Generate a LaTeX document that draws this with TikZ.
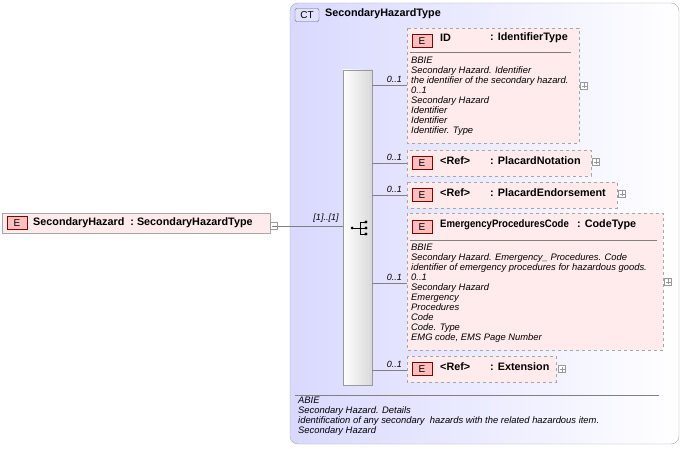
\documentclass[tikz,border=0pt]{standalone}
\usepackage{fontspec}
\setmainfont{Liberation Sans}
\begin{document}
\begin{tikzpicture}[x=1pt,y=-1pt,
 elem/.style={draw=black!35,dashed,fill=red!8},
 elemsolid/.style={draw=black!35,fill=red!8},
 badge/.style={draw=red!50!black,fill=red!25,minimum width=20pt,minimum height=13pt,inner sep=0pt,font=\fontsize{10}{11}\selectfont},
 btxt/.style={anchor=west,inner sep=0pt,font=\bfseries\fontsize{10.8}{12}\selectfont},
 itxt/.style={anchor=north west,inner sep=0pt,align=left,font=\itshape\fontsize{9.4}{10}\selectfont},
 mult/.style={inner sep=0pt,font=\itshape\fontsize{9}{10}\selectfont},
 conn/.style={draw=black!50},
 plus/.style={draw=black!40,fill=white,minimum size=7pt,inner sep=0pt}]
\useasboundingbox (0,0) rectangle (683,449);
% CT box
\shade[left color=blue!15,right color=white,rounded corners=8pt,draw=black!35] (290,3) rectangle (679,444);
\node[draw=black!60,fill=blue!12,rounded corners=2pt,minimum width=24pt,minimum height=13pt,inner sep=0pt,font=\fontsize{10}{11}\selectfont] (ct) at (307,15) {CT};
\node[btxt] (ctt) at (325,14) {SecondaryHazardType};
% left element
\draw[elemsolid] (2,213) rectangle (270,233);
\node[badge] (e0) at (17,223) {E};
\node[btxt] (t0) at (33,223) {SecondaryHazard\ \ :\ SecondaryHazardType};
\node[plus] (m0) at (274,226) {};
\draw[black!50] (271.5,226) -- (276.5,226);
% sequence
\shade[left color=white,right color=black!15,draw=black!40] (343,70) rectangle (372,385);
\coordinate (seqL) at (343,226);
\draw[conn] (m0.east) -- (seqL);
\node[mult,anchor=south] (m1) at (326,223) {[1]..[1]};
% seq icon
\fill (352,228) circle (1.5);
\draw (352,228) -- (360,228) (360,222) -- (360,234) (360,222)--(366,222) (360,228)--(366,228) (360,234)--(366,234);
\fill (366,222) circle (1.6) (366,228) circle (1.6) (366,234) circle (1.6);
% ID
\draw[elem] (407,28) rectangle (579,143);
\node[badge] (e1) at (422,41) {E};
\node[btxt] at (440,38) {ID}; \node[btxt] at (490,38) {: IdentifierType};
\draw[black!50] (410,52) -- (571,52);
\node[itxt] at (411,57) {BBIE\\Secondary Hazard. Identifier\\the identifier of the secondary hazard.\\0..1\\Secondary Hazard\\Identifier\\Identifier\\Identifier. Type};
\node[plus] (p1) at (584,86) {}; \draw[black!40] (581.5,86)--(586.5,86) (584,83.5)--(584,88.5);
% PlacardNotation
\draw[elem] (407,150) rectangle (591,176);
\node[badge] (e2) at (422,163) {E};
\node[btxt] at (440,161) {<Ref>}; \node[btxt] at (490,161) {: PlacardNotation};
\node[plus] (p2) at (596,162) {}; \draw[black!40] (593.5,162)--(598.5,162) (596,159.5)--(596,164.5);
% PlacardEndorsement
\draw[elem] (407,182) rectangle (617,208);
\node[badge] (e3) at (422,195) {E};
\node[btxt] at (440,193) {<Ref>}; \node[btxt] at (490,193) {: PlacardEndorsement};
\node[plus] (p3) at (622,194) {}; \draw[black!40] (619.5,194)--(624.5,194) (622,191.5)--(622,196.5);
% EPC
\draw[elem] (407,213) rectangle (663,350);
\node[badge] (e4) at (422,227) {E};
\node[btxt] at (440,225) {\scalebox{0.89}[1]{EmergencyProceduresCode}}; \node[btxt] at (577,225) {: CodeType};
\draw[black!50] (410,240) -- (657,240);
\node[itxt] at (411,244) {BBIE\\Secondary Hazard. Emergency\_ Procedures. Code\\identifier of emergency procedures for hazardous goods.\\0..1\\Secondary Hazard\\Emergency\\Procedures\\Code\\Code. Type\\EMG code, EMS Page Number};
\node[plus] (p4) at (668,282) {}; \draw[black!40] (665.5,282)--(670.5,282) (668,279.5)--(668,284.5);
% Extension
\draw[elem] (407,356) rectangle (556,382);
\node[badge] (e5) at (422,369) {E};
\node[btxt] at (440,367) {<Ref>}; \node[btxt] at (490,367) {: Extension};
\node[plus] (p5) at (562,369) {}; \draw[black!40] (559.5,369)--(564.5,369) (562,366.5)--(562,371.5);
% connectors
\foreach \y/\n in {85/a,163/b,195/c,283/d,370/e}{
 \coordinate (s\n) at (372,\y); \coordinate (t\n) at (407,\y);
 \draw[conn] (s\n) -- (t\n);
 \node[mult,anchor=south east] at (402,\y-2) {0..1};}
% bottom
\draw[black!50] (295,395) -- (659,395);
\node[itxt] at (298,397) {ABIE\\Secondary Hazard. Details\\identification of any secondary\ \ hazards with the related hazardous item.\\Secondary Hazard};
\end{tikzpicture}
\end{document}
